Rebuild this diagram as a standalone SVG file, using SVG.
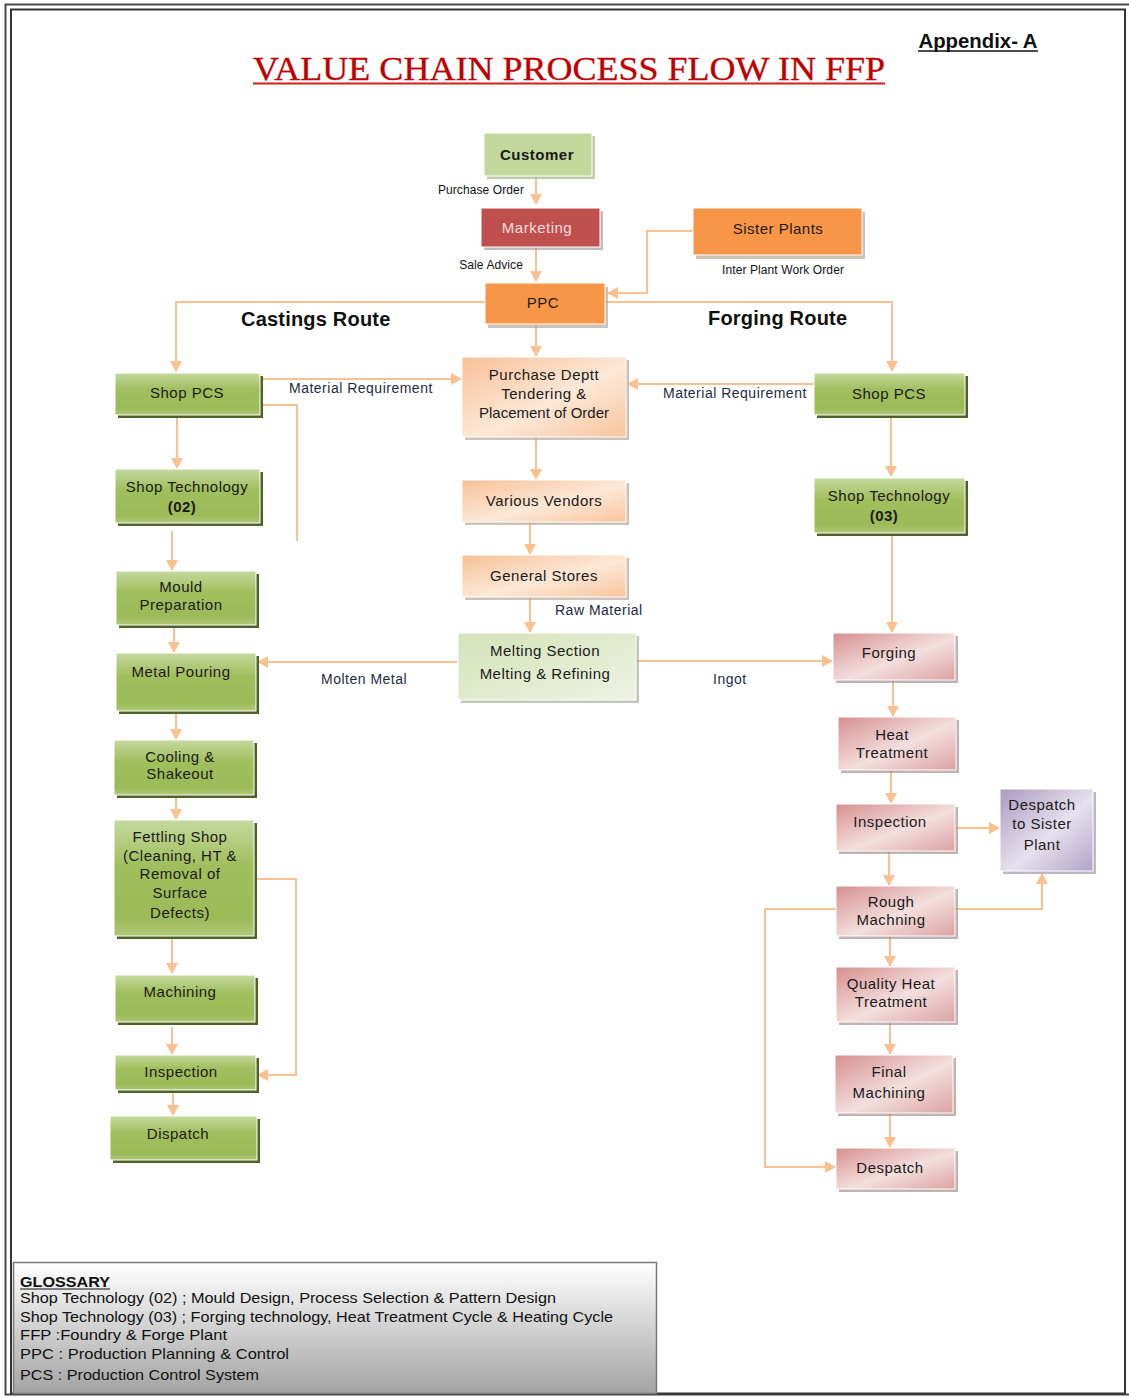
<svg xmlns="http://www.w3.org/2000/svg" width="1129" height="1398" viewBox="0 0 1129 1398">
<defs>
<style>
.t{font-family:"Liberation Sans",Arial,sans-serif;font-size:15px;fill:#1a1a1a;text-anchor:middle;letter-spacing:0.5px}
.b{font-weight:bold}
.lbl{font-family:"Liberation Sans",Arial,sans-serif;font-size:14px;fill:#1f2a44;letter-spacing:0.5px}
.sm{font-family:"Liberation Sans",Arial,sans-serif;font-size:12px;fill:#111;letter-spacing:0.1px}
.route{font-family:"Liberation Sans",Arial,sans-serif;font-size:20px;font-weight:bold;fill:#111;letter-spacing:0.2px}
.con{fill:none;stroke:#fac090;stroke-width:2}
.sg{fill:#4f6228}
.sp{fill:#9a8080;opacity:0.6}
.so{fill:#b8a89a;opacity:0.7}
.box{stroke:#ffffff;stroke-width:1}
.gl{font-family:"Liberation Sans",Arial,sans-serif;font-size:15px;fill:#111}
</style>
<linearGradient id="gGreen" x1="0" y1="0" x2="0" y2="1">
<stop offset="0" stop-color="#c5d99e"/><stop offset="0.4" stop-color="#9fbe5c"/><stop offset="0.85" stop-color="#9bbb59"/><stop offset="1" stop-color="#b0c878"/>
</linearGradient>
<linearGradient id="gOr" x1="0" y1="0" x2="1" y2="1">
<stop offset="0" stop-color="#f8c096"/><stop offset="0.55" stop-color="#fde8d8"/><stop offset="1" stop-color="#f9c49c"/>
</linearGradient>
<linearGradient id="gMelt" x1="0" y1="0" x2="1" y2="1">
<stop offset="0" stop-color="#d4e2b8"/><stop offset="1" stop-color="#eef3e2"/>
</linearGradient>
<linearGradient id="gPink" x1="0" y1="0" x2="1" y2="1">
<stop offset="0" stop-color="#d68f8e"/><stop offset="0.55" stop-color="#f3dfde"/><stop offset="1" stop-color="#dba2a1"/>
</linearGradient>
<linearGradient id="gPurp" x1="0" y1="0" x2="1" y2="1">
<stop offset="0" stop-color="#ab99c2"/><stop offset="0.55" stop-color="#e6e1ed"/><stop offset="1" stop-color="#b2a2c7"/>
</linearGradient>
<linearGradient id="gGloss" x1="0" y1="0" x2="0" y2="1">
<stop offset="0" stop-color="#ffffff"/><stop offset="1" stop-color="#a3a3a3"/>
</linearGradient>
<marker id="ar" markerUnits="userSpaceOnUse" markerWidth="12" markerHeight="12" refX="10" refY="6" orient="auto">
<path d="M0,0 L11,6 L0,12 Z" fill="#fac090"/>
</marker>
</defs>

<rect x="0" y="0" width="1129" height="1398" fill="#ffffff"/>
<rect x="5.5" y="4.5" width="1130" height="1390" fill="none" stroke="#4a4a4a" stroke-width="2"/>
<rect x="11" y="9.5" width="1114" height="1384" fill="none" stroke="#333" stroke-width="2"/>

<g id="title">
<text x="569" y="80" font-family="Liberation Serif,Times New Roman,serif" font-size="33" fill="#c00000" text-anchor="middle" textLength="632" lengthAdjust="spacingAndGlyphs" stroke="#c00000" stroke-width="0.3">VALUE CHAIN PROCESS FLOW IN FFP</text>
<line x1="253" y1="83.5" x2="885" y2="83.5" stroke="#d02020" stroke-width="2"/>
<text x="978" y="48" font-family="Liberation Sans,Arial,sans-serif" font-size="20" font-weight="bold" fill="#111" text-anchor="middle" textLength="119" lengthAdjust="spacingAndGlyphs">Appendix- A</text>
<line x1="918" y1="51" x2="1038" y2="51" stroke="#111" stroke-width="1.5"/>
</g>

<g id="connectors">
<line class="con" x1="536" y1="176" x2="536" y2="204" marker-end="url(#ar)"/>
<line class="con" x1="536" y1="248" x2="536" y2="281" marker-end="url(#ar)"/>
<polyline class="con" points="693,231 647,231 647,293 608,293" marker-end="url(#ar)"/>
<polyline class="con" points="485,302 176,302 176,371" marker-end="url(#ar)"/>
<polyline class="con" points="605,302 892,302 892,371" marker-end="url(#ar)"/>
<line class="con" x1="536" y1="324" x2="536" y2="356" marker-end="url(#ar)"/>
<line class="con" x1="260" y1="379" x2="461" y2="379" marker-end="url(#ar)"/>
<polyline class="con" points="260,405 297,405 297,541"/>
<line class="con" x1="814" y1="384" x2="628" y2="384" marker-end="url(#ar)"/>
<line class="con" x1="536" y1="437" x2="536" y2="479" marker-end="url(#ar)"/>
<line class="con" x1="530" y1="522" x2="530" y2="554" marker-end="url(#ar)"/>
<line class="con" x1="530" y1="597" x2="530" y2="632" marker-end="url(#ar)"/>
<line class="con" x1="457" y1="662" x2="258" y2="662" marker-end="url(#ar)"/>
<line class="con" x1="636" y1="661" x2="832" y2="661" marker-end="url(#ar)"/>
<line class="con" x1="177" y1="415" x2="177" y2="468" marker-end="url(#ar)"/>
<line class="con" x1="172" y1="531" x2="172" y2="570" marker-end="url(#ar)"/>
<line class="con" x1="174" y1="625" x2="174" y2="652" marker-end="url(#ar)"/>
<line class="con" x1="176" y1="711" x2="176" y2="739" marker-end="url(#ar)"/>
<line class="con" x1="176" y1="795" x2="176" y2="819" marker-end="url(#ar)"/>
<line class="con" x1="172" y1="936" x2="172" y2="973" marker-end="url(#ar)"/>
<line class="con" x1="172" y1="1027" x2="172" y2="1054" marker-end="url(#ar)"/>
<polyline class="con" points="254,879 296,879 296,1075 258,1075" marker-end="url(#ar)"/>
<line class="con" x1="173" y1="1090" x2="173" y2="1115" marker-end="url(#ar)"/>
<line class="con" x1="891" y1="415" x2="891" y2="476" marker-end="url(#ar)"/>
<line class="con" x1="892" y1="533" x2="892" y2="632" marker-end="url(#ar)"/>
<line class="con" x1="893" y1="680" x2="893" y2="716" marker-end="url(#ar)"/>
<line class="con" x1="891" y1="770" x2="891" y2="803" marker-end="url(#ar)"/>
<line class="con" x1="955" y1="828" x2="999" y2="828" marker-end="url(#ar)"/>
<line class="con" x1="889" y1="851" x2="889" y2="885" marker-end="url(#ar)"/>
<polyline class="con" points="955,909 1042,909 1042,874" marker-end="url(#ar)"/>
<polyline class="con" points="836,909 765,909 765,1167 835,1167" marker-end="url(#ar)"/>
<line class="con" x1="890" y1="936" x2="890" y2="966" marker-end="url(#ar)"/>
<line class="con" x1="890" y1="1022" x2="890" y2="1054" marker-end="url(#ar)"/>
<line class="con" x1="890" y1="1113" x2="890" y2="1147" marker-end="url(#ar)"/>
</g>

<g id="labels">
<text class="sm" x="524" y="194" text-anchor="end">Purchase Order</text>
<text class="sm" x="523" y="269" text-anchor="end">Sale Advice</text>
<text class="sm" x="722" y="274">Inter Plant Work Order</text>
<text class="route" x="241" y="326">Castings Route</text>
<text class="route" x="708" y="325">Forging Route</text>
<text class="lbl" x="289" y="393">Material Requirement</text>
<text class="lbl" x="663" y="398">Material Requirement</text>
<text class="lbl" x="555" y="615">Raw Material</text>
<text class="lbl" x="321" y="684">Molten Metal</text>
<text class="lbl" x="713" y="684">Ingot</text>
</g>

<g id="customer"><rect x="487" y="136" width="108" height="43" fill="#a6b58a" opacity="0.7"/><rect class="box" x="484" y="133" width="108" height="43" fill="#c3d69b"/><text class="t b" x="537" y="160">Customer</text></g>
<g id="marketing"><rect x="484" y="211" width="119" height="39" fill="#a8a0a0" opacity="0.7"/><rect class="box" x="481" y="208" width="119" height="39" fill="#c0504d"/><text class="t" x="537" y="233" style="fill:#f5dede">Marketing</text></g>
<g id="sister-plants"><rect class="so" x="696" y="212" width="169" height="47"/><rect class="box" x="693" y="208" width="169" height="47" fill="#f79646"/><text class="t" x="778" y="234">Sister Plants</text></g>
<g id="ppc"><rect class="so" x="488" y="287" width="120" height="41"/><rect class="box" x="485" y="283" width="120" height="41" fill="#f79646"/><text class="t" x="543" y="308">PPC</text></g>
<g id="purchase"><rect class="so" x="465" y="360" width="164" height="80"/><rect class="box" x="462" y="357" width="164" height="80" fill="url(#gOr)"/><text class="t" x="544" y="380">Purchase Deptt</text><text class="t" x="544" y="399">Tendering &amp;</text><text class="t" x="544" y="418" style="letter-spacing:0">Placement of Order</text></g>
<g id="vendors"><rect class="so" x="465" y="483" width="164" height="42"/><rect class="box" x="462" y="480" width="164" height="42" fill="url(#gOr)"/><text class="t" x="544" y="506">Various Vendors</text></g>
<g id="stores"><rect class="so" x="465" y="558" width="164" height="42"/><rect class="box" x="462" y="555" width="164" height="42" fill="url(#gOr)"/><text class="t" x="544" y="581">General Stores</text></g>
<g id="melting"><rect x="461" y="636" width="178" height="67" fill="#a8b096" opacity="0.7"/><rect class="box" x="458" y="633" width="178" height="67" fill="url(#gMelt)"/><text class="t" x="545" y="656">Melting Section</text><text class="t" x="545" y="679">Melting &amp; Refining</text></g>

<g id="shop-pcs-l"><rect class="sg" x="118" y="376" width="145" height="42"/><rect class="box" x="115" y="373" width="145" height="42" fill="url(#gGreen)"/><text class="t" x="187" y="398">Shop PCS</text></g>
<g id="shop-tech-02"><rect class="sg" x="118" y="472" width="145" height="54"/><rect class="box" x="115" y="469" width="145" height="54" fill="url(#gGreen)"/><text class="t" x="187" y="492">Shop Technology</text><text class="t b" x="182" y="512">(02)</text></g>
<g id="mould"><rect class="sg" x="119" y="574" width="140" height="54"/><rect class="box" x="116" y="571" width="140" height="54" fill="url(#gGreen)"/><text class="t" x="181" y="592">Mould</text><text class="t" x="181" y="610">Preparation</text></g>
<g id="pouring"><rect class="sg" x="119" y="656" width="140" height="58"/><rect class="box" x="116" y="653" width="140" height="58" fill="url(#gGreen)"/><text class="t" x="181" y="677">Metal Pouring</text></g>
<g id="cooling"><rect class="sg" x="117" y="743" width="140" height="55"/><rect class="box" x="114" y="740" width="140" height="55" fill="url(#gGreen)"/><text class="t" x="180" y="762">Cooling &amp;</text><text class="t" x="180" y="779">Shakeout</text></g>
<g id="fettling"><rect class="sg" x="117" y="823" width="140" height="116"/><rect class="box" x="114" y="820" width="140" height="116" fill="url(#gGreen)"/><text class="t" x="180" y="842">Fettling Shop</text><text class="t" x="180" y="861">(Cleaning, HT &amp;</text><text class="t" x="180" y="879">Removal of</text><text class="t" x="180" y="898">Surface</text><text class="t" x="180" y="918">Defects)</text></g>
<g id="machining-l"><rect class="sg" x="118" y="978" width="140" height="47"/><rect class="box" x="115" y="975" width="140" height="47" fill="url(#gGreen)"/><text class="t" x="180" y="997">Machining</text></g>
<g id="inspection-l"><rect class="sg" x="118" y="1058" width="141" height="35"/><rect class="box" x="115" y="1055" width="141" height="35" fill="url(#gGreen)"/><text class="t" x="181" y="1077">Inspection</text></g>
<g id="dispatch-l"><rect class="sg" x="113" y="1119" width="147" height="44"/><rect class="box" x="110" y="1116" width="147" height="44" fill="url(#gGreen)"/><text class="t" x="178" y="1139">Dispatch</text></g>

<g id="shop-pcs-r"><rect class="sg" x="817" y="376" width="151" height="42"/><rect class="box" x="814" y="373" width="151" height="42" fill="url(#gGreen)"/><text class="t" x="889" y="399">Shop PCS</text></g>
<g id="shop-tech-03"><rect class="sg" x="817" y="481" width="151" height="55"/><rect class="box" x="814" y="478" width="151" height="55" fill="url(#gGreen)"/><text class="t" x="889" y="501">Shop Technology</text><text class="t b" x="884" y="521">(03)</text></g>
<g id="forging"><rect class="sp" x="836" y="636" width="122" height="47"/><rect class="box" x="833" y="633" width="122" height="47" fill="url(#gPink)"/><text class="t" x="889" y="658">Forging</text></g>
<g id="heat-treatment"><rect class="sp" x="841" y="720" width="118" height="53"/><rect class="box" x="838" y="717" width="118" height="53" fill="url(#gPink)"/><text class="t" x="892" y="740">Heat</text><text class="t" x="892" y="758">Treatment</text></g>
<g id="inspection-r"><rect class="sp" x="839" y="807" width="119" height="47"/><rect class="box" x="836" y="804" width="119" height="47" fill="url(#gPink)"/><text class="t" x="890" y="827">Inspection</text></g>
<g id="despatch-sister"><rect x="1003" y="792" width="93" height="82" fill="#8f86a0" opacity="0.6"/><rect class="box" x="1000" y="789" width="93" height="82" fill="url(#gPurp)"/><text class="t" x="1042" y="810">Despatch</text><text class="t" x="1042" y="829">to Sister</text><text class="t" x="1042" y="850">Plant</text></g>
<g id="rough"><rect class="sp" x="839" y="889" width="119" height="50"/><rect class="box" x="836" y="886" width="119" height="50" fill="url(#gPink)"/><text class="t" x="891" y="907">Rough</text><text class="t" x="891" y="925">Machning</text></g>
<g id="qht"><rect class="sp" x="839" y="970" width="119" height="55"/><rect class="box" x="836" y="967" width="119" height="55" fill="url(#gPink)"/><text class="t" x="891" y="989">Quality Heat</text><text class="t" x="891" y="1007">Treatment</text></g>
<g id="final"><rect class="sp" x="838" y="1058" width="118" height="58"/><rect class="box" x="835" y="1055" width="118" height="58" fill="url(#gPink)"/><text class="t" x="889" y="1077">Final</text><text class="t" x="889" y="1098">Machining</text></g>
<g id="despatch-r"><rect class="sp" x="839" y="1151" width="119" height="41"/><rect class="box" x="836" y="1148" width="119" height="41" fill="url(#gPink)"/><text class="t" x="890" y="1173">Despatch</text></g>

<g id="glossary">
<rect x="13.5" y="1262.5" width="643" height="131" fill="url(#gGloss)" stroke="#7a7a7a" stroke-width="1.5"/>
<text class="gl b" x="20" y="1287" textLength="90" lengthAdjust="spacingAndGlyphs">GLOSSARY</text>
<line x1="20" y1="1289" x2="110" y2="1289" stroke="#111" stroke-width="1.2"/>
<text class="gl" x="20" y="1303" textLength="536" lengthAdjust="spacingAndGlyphs">Shop Technology (02) ; Mould Design, Process Selection &amp; Pattern Design</text>
<text class="gl" x="20" y="1322" textLength="593" lengthAdjust="spacingAndGlyphs">Shop Technology (03) ; Forging technology, Heat Treatment Cycle &amp; Heating Cycle</text>
<text class="gl" x="20" y="1340" textLength="207" lengthAdjust="spacingAndGlyphs">FFP  :Foundry &amp; Forge Plant</text>
<text class="gl" x="20" y="1359" textLength="269" lengthAdjust="spacingAndGlyphs">PPC  : Production Planning &amp; Control</text>
<text class="gl" x="20" y="1380" textLength="239" lengthAdjust="spacingAndGlyphs">PCS : Production Control System</text>
</g>
</svg>
